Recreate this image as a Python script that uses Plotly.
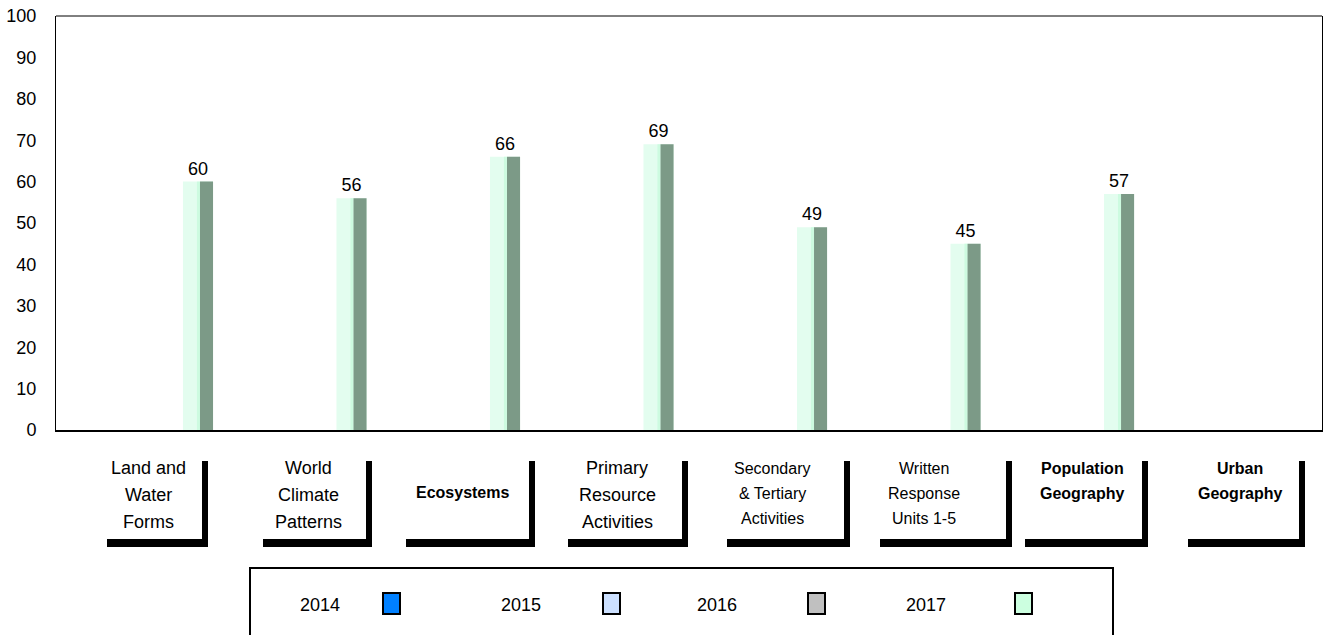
import plotly.graph_objects as go

# ---------------- data ----------------
categories = [
    "Land and Water Forms",
    "World Climate Patterns",
    "Ecosystems",
    "Primary Resource Activities",
    "Secondary & Tertiary Activities",
    "Written Response Units 1-5",
    "Population Geography",
    "Urban Geography",
]
category_lines = [
    ["Land and", "Water", "Forms"],
    ["World", "Climate", "Patterns"],
    ["Ecosystems"],
    ["Primary", "Resource", "Activities"],
    ["Secondary", "& Tertiary", "Activities"],
    ["Written", "Response", "Units 1-5"],
    ["Population", "Geography"],
    ["Urban", "Geography"],
]
category_bold = [False, False, True, False, False, False, True, True]
category_small = [False, False, True, False, True, True, True, True]

years = ["2014", "2015", "2016", "2017"]
values_2014 = [None, None, None, None, None, None, None, None]
values_2015 = [None, None, None, None, None, None, None, None]
values_2016 = [None, None, None, None, None, None, None, None]
values_2017 = [60, 56, 66, 69, 49, 45, 57, None]
year_colors = ["#0080ff", "#cce0ff", "#c0c0c0", "#ccffe0"]

FONT = "Arial, Liberation Sans, sans-serif"
W, H = 1325, 635
PLOT_L, PLOT_R, PLOT_T, PLOT_B = 56, 1322, 16, 430  # pixels
L, T = PLOT_L, PLOT_T
R = W - PLOT_R
B = H - PLOT_B
PW, PH = PLOT_R - PLOT_L, PLOT_B - PLOT_T


def xp(px):
    return (px - PLOT_L) / PW


def yp(py):
    return (PLOT_B - py) / PH


fig = go.Figure()

for yr, vals, col in zip(years[:3], [values_2014, values_2015, values_2016], year_colors[:3]):
    fig.add_trace(go.Bar(x=categories, y=vals, name=yr, marker_color=col,
                         offset=0.327, width=0.196, showlegend=False))

# 2017 front face (carries the value labels)
fig.add_trace(go.Bar(
    x=categories, y=values_2017, name="2017",
    offset=0.327, width=0.196,
    marker=dict(color="#e3fdef", line=dict(width=0)),
    text=["" if v is None else str(v) for v in values_2017],
    textposition="outside",
    textfont=dict(family=FONT, size=18, color="black"),
    cliponaxis=False, showlegend=False,
))
# thin inner edge of the front face
fig.add_trace(go.Bar(
    x=categories, y=values_2017, name="2017 edge",
    offset=0.418, width=0.02,
    marker=dict(color="#cdfbe0", line=dict(width=0)),
    showlegend=False, hoverinfo="skip",
))
# 2017 shaded side face
fig.add_trace(go.Bar(
    x=categories, y=values_2017, name="2017 side",
    offset=0.438, width=0.085,
    marker=dict(color="#7c9a87", line=dict(width=0)),
    showlegend=False, hoverinfo="skip",
))

shapes = []
annotations = []

# top frame line
shapes.append(dict(type="line", xref="paper", yref="paper", x0=0, x1=1, y0=1, y1=1,
                   line=dict(color="black", width=1)))

# category labels with L-shaped shadow borders
label_cx = [148, 308, 462, 617, 772, 924, 1082, 1240]
box_left = [107, 263, 406, 568, 727, 880, 1025, 1188]
box_right = [208, 372, 535, 688, 850, 1012, 1148, 1305]
for i, lines in enumerate(category_lines):
    size = 16 if category_small[i] else 18
    step = 25 if category_small[i] else 27
    if len(lines) == 1:
        ys = [492]
    else:
        ys = [468 + k * step for k in range(len(lines))]
    for ln, yy in zip(lines, ys):
        txt = f"<b>{ln}</b>" if category_bold[i] else ln
        annotations.append(dict(text=txt, xref="paper", yref="paper", x=xp(label_cx[i]), y=yp(yy),
                                xanchor="center", yanchor="middle", showarrow=False,
                                font=dict(family=FONT, size=size, color="black")))
    shapes.append(dict(type="rect", xref="paper", yref="paper",
                       x0=xp(box_right[i] - 6), x1=xp(box_right[i]), y0=yp(461), y1=yp(547),
                       fillcolor="black", line=dict(width=0)))
    shapes.append(dict(type="rect", xref="paper", yref="paper",
                       x0=xp(box_left[i]), x1=xp(box_right[i]), y0=yp(539), y1=yp(547),
                       fillcolor="black", line=dict(width=0)))

# custom legend
shapes.append(dict(type="rect", xref="paper", yref="paper",
                   x0=xp(250), x1=xp(1113), y0=yp(568), y1=yp(645),
                   fillcolor="rgba(0,0,0,0)", line=dict(color="black", width=2)))
legend_text_cx = [320, 521, 717, 926]
legend_sq_x = [383, 603, 808, 1015]
for yr, col, tx, sx in zip(years, year_colors, legend_text_cx, legend_sq_x):
    annotations.append(dict(text=yr, xref="paper", yref="paper", x=xp(tx), y=yp(605),
                            xanchor="center", yanchor="middle", showarrow=False,
                            font=dict(family=FONT, size=18, color="black")))
    shapes.append(dict(type="rect", xref="paper", yref="paper",
                       x0=xp(sx), x1=xp(sx + 17), y0=yp(593), y1=yp(614),
                       fillcolor=col, line=dict(color="black", width=2)))

fig.update_layout(
    width=W, height=H,
    margin=dict(l=L, r=R, t=T, b=B, pad=0),
    paper_bgcolor="white", plot_bgcolor="white",
    barmode="overlay",
    font=dict(family=FONT, size=18, color="black"),
    xaxis=dict(type="category", range=[-0.5, 7.747], showticklabels=False, ticks="",
               showgrid=False, zeroline=False, showline=True, linecolor="black", linewidth=2),
    yaxis=dict(range=[0, 100], dtick=10, tick0=0, showgrid=False, zeroline=False,
               showline=True, linecolor="black", linewidth=1, mirror=True, ticks="",
               ticklabelstandoff=15, ticklabeloverflow="allow",
               tickfont=dict(family=FONT, size=18, color="black")),
    shapes=shapes,
    annotations=annotations,
    showlegend=False,
)

fig.write_html(
    "out.html",
    config={"displayModeBar": False},
    post_script="document.body.style.margin='0';document.body.style.overflow='hidden';",
)
